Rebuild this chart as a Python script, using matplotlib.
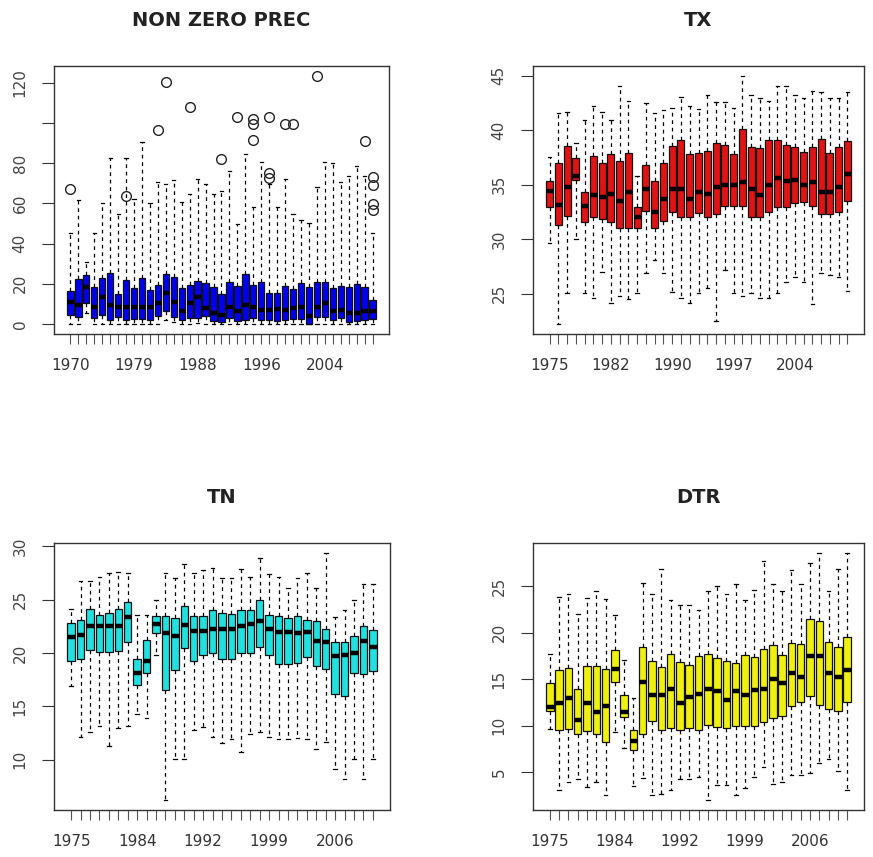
import matplotlib
matplotlib.use("Agg")
import matplotlib.pyplot as plt

# ---------------- NON ZERO PREC ----------------
prec_years = [1970, 1971, 1972, 1973, 1975, 1976, 1977, 1978, 1979, 1980, 1981, 1982,
              1984, 1985, 1986, 1987, 1988, 1989, 1990, 1991, 1992, 1993, 1994, 1995,
              1996, 1997, 1998, 1999, 2000, 2001, 2002, 2003, 2004, 2005, 2006, 2007,
              2008, 2009, 2010]
prec_med = [11.2, 9.6, 18.6, 8.7, 13.7, 9.6, 8.7, 8.7, 8.7, 8.7, 8.7, 10.4, 15.3, 11.2,
            6.3, 10.4, 13.7, 7.9, 5.4, 4.6, 8.7, 6.3, 9.6, 8.7, 7.1, 7.1, 7.4, 7.1, 7.9,
            8.7, 3.8, 8.7, 10.4, 6.3, 7.1, 5.4, 5.4, 6.3, 6.3]
prec_q1 = [4.6, 3.5, 10.4, 3.0, 4.6, 2.1, 3.3, 2.1, 2.5, 2.5, 2.1, 4.1, 6.3, 3.5, 1.8,
           3.0, 3.0, 3.8, 1.3, 0.8, 3.0, 1.3, 2.1, 3.0, 2.1, 1.8, 1.3, 2.1, 2.5, 2.5,
           0.2, 3.3, 3.5, 2.1, 3.0, 0.8, 1.3, 2.1, 2.5]
prec_q3 = [16.2, 22.4, 24.4, 18.6, 23.0, 25.5, 15.0, 21.9, 17.8, 22.7, 17.0, 19.4, 24.7,
           23.2, 17.8, 19.4, 21.6, 20.3, 18.3, 15.0, 21.1, 19.0, 24.7, 19.4, 21.1, 15.3,
           15.3, 19.0, 17.3, 20.3, 18.6, 21.1, 21.1, 17.8, 19.0, 18.3, 19.8, 18.6, 12.0]
prec_hi = [45.3, 61.5, 31.0, 45.3, 60.2, 82.6, 54.9, 82.6, 62.3, 90.3, 60.2, 70.5, 69.4,
           71.4, 60.7, 64.4, 72.2, 69.4, 64.4, 66.1, 76.3, 49.9, 84.6, 58.2, 80.4, 69.4,
           58.2, 72.2, 54.9, 51.6, 50.3, 68.1, 80.4, 79.9, 70.5, 73.8, 78.3, 73.8, 45.3]
prec_lo = [0, 0, 5.4, 0, 0, 0, 0, 0, 0, 0, 0, 0, 2.1, 0.8, 0, 0, 0.5, 0, 0, 0, 0, 0, 0,
           0, 0, 0, 0, 0, 0, 0, 0, 0, 0, 0, 0, 0, 0, 0, 0]
prec_out_year = [1970, 1978, 1982, 1984, 1987, 1991, 1993, 1995, 1995, 1995, 1997, 1997,
                 1997, 1999, 2000, 2003, 2009, 2010, 2010, 2010, 2010]
prec_out_val = [67.2, 63.6, 96.6, 120.3, 108.0, 82.1, 103.0, 101.9, 99.4, 91.5, 103.0,
                75.0, 72.7, 99.4, 99.4, 123.3, 91.1, 73.0, 68.9, 59.5, 56.9]
prec_yticks = [0, 20, 40, 60, 80, 100, 120]
prec_ylabels = ["0", "20", "40", "60", "80", "", "120"]

# ---------------- TX ----------------
tx_years = [1975, 1976, 1977, 1978, 1979, 1980, 1981, 1982] + list(range(1984, 2011))
tx_med = [34.4, 33.1, 34.76, 35.8, 33.0, 34.0, 33.85, 34.15, 33.5, 34.36, 32.0, 34.55,
          32.5, 33.7, 34.55, 34.55, 33.7, 34.3, 34.1, 34.76, 34.97, 35.0, 35.2, 34.6,
          34.06, 35.0, 35.6, 35.3, 35.45, 35.0, 35.2, 34.3, 34.3, 34.76, 36.0]
tx_q1 = [32.9, 31.3, 32.1, 35.4, 31.6, 32.0, 31.8, 31.6, 31.0, 31.06, 31.0, 32.6, 31.0,
         31.7, 32.5, 32.0, 32.0, 32.4, 32.0, 32.3, 33.0, 33.0, 33.0, 32.0, 32.0, 32.5,
         32.94, 32.94, 33.3, 33.4, 33.0, 32.3, 32.3, 32.5, 33.5]
tx_q3 = [35.36, 37.0, 38.5, 37.4, 34.36, 37.6, 37.0, 37.8, 37.2, 37.9, 32.94, 36.8,
         35.36, 37.0, 38.5, 39.06, 37.85, 37.9, 38.1, 38.85, 38.6, 37.8, 40.06, 38.45,
         38.4, 39.06, 39.06, 38.6, 38.45, 38.0, 38.45, 39.15, 37.9, 38.45, 39.0]
tx_hi = [37.5, 41.6, 41.7, 38.85, 40.9, 42.2, 41.7, 40.9, 44.0, 42.7, 35.8, 42.5, 41.6,
         41.8, 42.0, 43.0, 42.2, 41.9, 43.2, 42.6, 42.6, 42.0, 44.97, 43.2, 42.9, 42.7,
         44.0, 44.0, 43.2, 42.9, 43.6, 43.5, 42.9, 42.9, 43.5]
tx_lo = [29.6, 22.2, 25.06, 30.0, 25.06, 24.6, 27.0, 24.15, 24.75, 24.5, 25.06, 26.9,
         28.1, 26.9, 25.15, 24.6, 24.15, 25.06, 25.5, 22.5, 27.2, 25.06, 24.8, 25.06,
         24.6, 24.6, 25.06, 26.1, 26.5, 26.1, 24.0, 26.9, 26.7, 26.5, 25.2]
tx_yticks = [25, 30, 35, 40, 45]

# ---------------- TN / DTR ----------------
tn_years = [1975, 1976, 1977, 1978, 1979, 1980, 1981, 1984, 1985, 1986, 1987, 1988,
            1989, 1990] + list(range(1992, 2011))
tn_med = [21.55, 21.7, 22.5, 22.5, 22.5, 22.5, 23.4, 18.1, 19.3, 22.7, 21.9, 21.6, 22.6,
          22.1, 22.1, 22.3, 22.3, 22.3, 22.5, 22.7, 23.0, 22.3, 22.0, 22.0, 21.9, 22.0,
          21.1, 21.0, 19.7, 19.8, 20.0, 21.1, 20.6]
tn_q1 = [19.3, 19.4, 20.3, 20.1, 20.1, 20.2, 21.0, 17.0, 18.1, 21.9, 16.5, 18.4, 20.5,
         19.3, 19.8, 20.0, 19.4, 19.4, 20.0, 20.0, 20.6, 19.8, 19.0, 19.0, 19.1, 19.6,
         18.8, 18.5, 16.2, 16.0, 18.1, 18.0, 18.3]
tn_q3 = [22.8, 23.1, 24.1, 23.6, 23.8, 24.1, 24.8, 19.4, 21.2, 23.5, 23.5, 23.3, 24.4,
         23.5, 23.5, 24.0, 23.8, 23.7, 24.0, 24.0, 25.0, 23.6, 23.5, 23.3, 23.5, 23.1,
         23.0, 22.3, 21.0, 21.0, 21.6, 22.5, 22.2]
tn_hi = [24.1, 26.8, 26.8, 27.1, 27.5, 27.6, 27.5, 23.6, 23.6, 25.0, 27.5, 27.0, 28.4,
         27.5, 27.8, 28.0, 27.0, 27.0, 27.9, 27.1, 28.9, 27.4, 27.1, 26.1, 27.0, 27.5,
         26.1, 29.4, 23.4, 24.0, 25.0, 26.5, 26.5]
tn_lo = [16.9, 12.1, 12.6, 13.2, 11.3, 13.0, 13.2, 14.3, 13.9, 19.8, 6.2, 10.1, 10.1,
         12.8, 13.1, 12.1, 11.6, 11.9, 10.7, 12.4, 12.6, 12.1, 11.9, 11.9, 12.0, 11.9,
         11.0, 11.7, 9.1, 8.2, 10.1, 8.2, 10.1]
tn_yticks = [10, 15, 20, 25, 30]

dtr_years = tn_years
dtr_med = [11.97, 12.4, 13.0, 10.6, 12.4, 11.5, 12.15, 16.1, 11.5, 8.4, 14.75, 13.3,
           13.3, 14.0, 12.5, 13.1, 13.4, 14.0, 13.75, 12.8, 13.7, 13.3, 13.9, 14.0,
           15.07, 14.6, 15.7, 15.3, 17.5, 17.5, 15.7, 15.2, 16.0]
dtr_q1 = [11.6, 9.55, 9.66, 9.1, 9.4, 9.06, 8.2, 14.75, 10.9, 7.4, 9.06, 10.5, 9.55,
          9.8, 9.55, 9.8, 9.5, 10.1, 9.9, 9.8, 10.0, 9.95, 9.95, 10.45, 10.8, 11.0,
          12.1, 12.6, 13.15, 12.26, 11.8, 11.6, 12.6]
dtr_q3 = [14.64, 16.0, 16.2, 14.0, 16.4, 16.4, 16.1, 18.1, 13.3, 9.55, 18.5, 17.0,
          16.3, 17.7, 16.9, 16.5, 17.5, 17.7, 17.3, 17.0, 16.8, 17.6, 17.4, 18.3, 18.7,
          17.6, 18.9, 18.8, 21.5, 21.3, 19.0, 18.5, 19.6]
dtr_hi = [17.7, 23.9, 24.2, 22.0, 23.7, 24.5, 23.6, 21.9, 17.1, 13.0, 25.4, 24.2, 26.9,
          23.5, 23.0, 23.0, 22.5, 24.5, 25.0, 24.2, 25.25, 23.5, 24.6, 27.7, 25.3, 24.5,
          26.8, 25.3, 27.5, 28.6, 24.5, 26.9, 28.6]
dtr_lo = [9.6, 3.1, 4.0, 4.3, 3.4, 4.0, 2.5, 9.3, 7.6, 3.5, 4.4, 2.5, 2.7, 3.1, 4.25,
          4.25, 4.5, 2.0, 3.6, 3.6, 2.5, 3.3, 4.5, 5.6, 3.7, 3.9, 4.7, 4.7, 4.96, 6.0,
          6.4, 5.1, 3.1]
dtr_yticks = [5, 10, 15, 20, 25]

W, H = 873, 857
fig = plt.figure(figsize=(W / 100, H / 100), dpi=100)
TXT = "#333333"


def panel(rect, title, years, med, q1, q3, lo, hi, color, yticks, label_step,
          ylabels=None, out_year=(), out_val=()):
    l, t, r, b = rect
    ax = fig.add_axes([l / W, 1 - b / H, (r - l) / W, (b - t) / H])
    n = len(years)
    stats = []
    for i in range(n):
        fl = [v for y, v in zip(out_year, out_val) if y == years[i]]
        stats.append(dict(med=med[i], q1=q1[i], q3=q3[i], whislo=lo[i], whishi=hi[i],
                          fliers=fl))
    pos = list(range(1, n + 1))
    ax.bxp(stats, positions=pos, widths=0.8, capwidths=0.4, patch_artist=True,
           boxprops=dict(facecolor=color, edgecolor="#111111", linewidth=0.9),
           medianprops=dict(color="black", linewidth=3.2, solid_capstyle="butt"),
           whiskerprops=dict(color="black", linewidth=0.9, linestyle=(0, (3, 3))),
           capprops=dict(color="black", linewidth=0.9),
           flierprops=dict(marker="o", markerfacecolor="none", markeredgecolor="#222222",
                           markersize=7, markeredgewidth=1.0))
    allv = list(lo) + list(hi) + list(out_val)
    vmin, vmax = min(allv), max(allv)
    rng = vmax - vmin
    ax.set_ylim(vmin - 0.04 * rng, vmax + 0.04 * rng)
    ax.set_xlim(0.5 - 0.04 * n, n + 0.5 + 0.04 * n)
    ax.set_xticks(pos)
    ax.set_xticklabels([str(y) if i % label_step == 0 else "" for i, y in enumerate(years)])
    ax.set_yticks(yticks)
    ax.set_yticklabels(ylabels if ylabels is not None else [str(v) for v in yticks],
                       rotation=90, va="center")
    ax.tick_params(axis="x", length=7, width=0.8, color="#555555", pad=10,
                   labelsize=11, labelcolor=TXT)
    ax.tick_params(axis="y", length=9, width=0.8, color="#333333", pad=10,
                   labelsize=11, labelcolor="#444444")
    for s in ax.spines.values():
        s.set_linewidth(1.0)
        s.set_color("#333333")
    ax.set_title(title, fontsize=14, fontweight="bold", color="#222222", pad=29)
    return ax


panel((54, 66, 389, 334), "NON ZERO PREC", prec_years, prec_med, prec_q1, prec_q3,
      prec_lo, prec_hi, "#0000ee", prec_yticks, 8, ylabels=prec_ylabels,
      out_year=prec_out_year, out_val=prec_out_val)
panel((533, 66, 864, 334), "TX", tx_years, tx_med, tx_q1, tx_q3, tx_lo, tx_hi,
      "#e01414", tx_yticks, 7)
panel((54, 543, 390, 810), "TN", tn_years, tn_med, tn_q1, tn_q3, tn_lo, tn_hi,
      "#22e0e0", tn_yticks, 7)
panel((533, 543, 864, 810), "DTR", dtr_years, dtr_med, dtr_q1, dtr_q3, dtr_lo, dtr_hi,
      "#f0f010", dtr_yticks, 7)

fig.savefig("out.png", dpi=100)
